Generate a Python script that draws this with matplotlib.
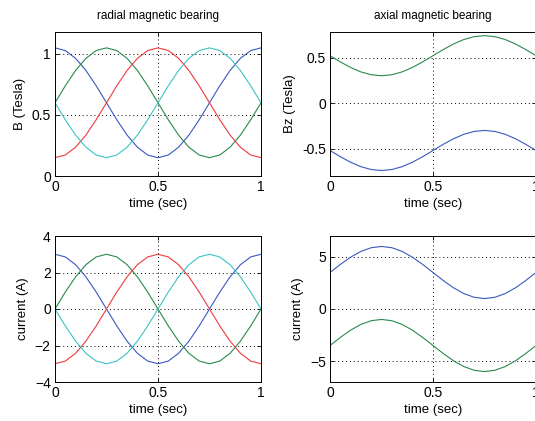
import matplotlib
matplotlib.use('Agg')
import matplotlib.pyplot as plt

plt.rcParams['font.family'] = ['Liberation Sans', 'DejaVu Sans']

# time axis, 0.05 s steps
t = [0.0, 0.05, 0.1, 0.15, 0.2, 0.25, 0.3, 0.35, 0.4, 0.45, 0.5,
     0.55, 0.6, 0.65, 0.7, 0.75, 0.8, 0.85, 0.9, 0.95, 1.0]

# radial bearing flux (Tesla)
B_blue = [1.05, 1.028, 0.964, 0.865, 0.739, 0.6, 0.461, 0.335, 0.236, 0.172, 0.15,
          0.172, 0.236, 0.335, 0.461, 0.6, 0.739, 0.865, 0.964, 1.028, 1.05]
B_green = [0.6, 0.739, 0.865, 0.964, 1.028, 1.05, 1.028, 0.964, 0.865, 0.739, 0.6,
           0.461, 0.335, 0.236, 0.172, 0.15, 0.172, 0.236, 0.335, 0.461, 0.6]
B_red = [0.15, 0.172, 0.236, 0.335, 0.461, 0.6, 0.739, 0.865, 0.964, 1.028, 1.05,
         1.028, 0.964, 0.865, 0.739, 0.6, 0.461, 0.335, 0.236, 0.172, 0.15]
B_cyan = [0.6, 0.461, 0.335, 0.236, 0.172, 0.15, 0.172, 0.236, 0.335, 0.461, 0.6,
          0.739, 0.865, 0.964, 1.028, 1.05, 1.028, 0.964, 0.865, 0.739, 0.6]

# axial bearing flux (Tesla)
Bz_green = [0.52, 0.452, 0.391, 0.342, 0.311, 0.30, 0.311, 0.342, 0.391, 0.452, 0.52,
            0.588, 0.649, 0.698, 0.729, 0.74, 0.729, 0.698, 0.649, 0.588, 0.52]
Bz_blue = [-0.52, -0.588, -0.649, -0.698, -0.729, -0.74, -0.729, -0.698, -0.649, -0.588, -0.52,
           -0.452, -0.391, -0.342, -0.311, -0.30, -0.311, -0.342, -0.391, -0.452, -0.52]

# radial currents (A)
I_blue = [3.0, 2.853, 2.427, 1.763, 0.927, 0.0, -0.927, -1.763, -2.427, -2.853, -3.0,
          -2.853, -2.427, -1.763, -0.927, 0.0, 0.927, 1.763, 2.427, 2.853, 3.0]
I_green = [0.0, 0.927, 1.763, 2.427, 2.853, 3.0, 2.853, 2.427, 1.763, 0.927, 0.0,
           -0.927, -1.763, -2.427, -2.853, -3.0, -2.853, -2.427, -1.763, -0.927, 0.0]
I_red = [-3.0, -2.853, -2.427, -1.763, -0.927, 0.0, 0.927, 1.763, 2.427, 2.853, 3.0,
         2.853, 2.427, 1.763, 0.927, 0.0, -0.927, -1.763, -2.427, -2.853, -3.0]
I_cyan = [0.0, -0.927, -1.763, -2.427, -2.853, -3.0, -2.853, -2.427, -1.763, -0.927, 0.0,
          0.927, 1.763, 2.427, 2.853, 3.0, 2.853, 2.427, 1.763, 0.927, 0.0]

# axial currents (A)
Iz_blue = [3.5, 4.273, 4.969, 5.523, 5.878, 6.0, 5.878, 5.523, 4.969, 4.273, 3.5,
           2.727, 2.031, 1.477, 1.122, 1.0, 1.122, 1.477, 2.031, 2.727, 3.5]
Iz_green = [-3.5, -2.727, -2.031, -1.477, -1.122, -1.0, -1.122, -1.477, -2.031, -2.727, -3.5,
            -4.273, -4.969, -5.523, -5.878, -6.0, -5.878, -5.523, -4.969, -4.273, -3.5]

c_blue = '#3a58c0'
c_green = '#2a8a4c'
c_red = '#f03a3a'
c_cyan = '#3cc4c4'

fig = plt.figure(figsize=(5.35, 4.21), dpi=100)
W, H = 535.0, 421.0

def make_ax(x0, y0, x1, y1):
    ax = fig.add_axes([x0 / W, 1 - y1 / H, (x1 - x0) / W, (y1 - y0) / H])
    ax.grid(True, color='black', linestyle=(0, (1, 3)), linewidth=0.7)
    ax.tick_params(direction='in', length=3, labelsize=10, width=0.6,
                   top=True, right=True, pad=3)
    for s in ax.spines.values():
        s.set_linewidth(0.7)
    ax.set_xlim(0, 1)
    ax.set_xticks([0, 0.5, 1])
    ax.set_xticklabels(['0', '0.5', '1'])
    ax.set_xlabel('time (sec)', fontsize=9.5, labelpad=3)
    return ax

lw = 0.8

ax1 = make_ax(55, 32, 261, 176)
ax1.plot(t, B_blue, color=c_blue, lw=lw)
ax1.plot(t, B_green, color=c_green, lw=lw)
ax1.plot(t, B_red, color=c_red, lw=lw)
ax1.plot(t, B_cyan, color=c_cyan, lw=lw)
ax1.set_ylim(0, 1.18)
ax1.set_yticks([0, 0.5, 1])
ax1.set_yticklabels(['0', '0.5', '1'])
ax1.set_ylabel('B (Tesla)', fontsize=9.5)
ax1.set_title('radial magnetic bearing', fontsize=8.5, pad=9)

ax2 = make_ax(330, 32, 536, 176)
ax2.plot(t, Bz_green, color=c_green, lw=lw)
ax2.plot(t, Bz_blue, color=c_blue, lw=lw)
ax2.set_ylim(-0.8, 0.78)
ax2.set_yticks([-0.5, 0, 0.5])
ax2.set_yticklabels(['-0.5', '0', '0.5'])
ax2.set_ylabel('Bz (Tesla)', fontsize=9.5)
ax2.set_title('axial magnetic bearing', fontsize=8.5, pad=9)

ax3 = make_ax(55, 236, 261, 382)
ax3.plot(t, I_blue, color=c_blue, lw=lw)
ax3.plot(t, I_green, color=c_green, lw=lw)
ax3.plot(t, I_red, color=c_red, lw=lw)
ax3.plot(t, I_cyan, color=c_cyan, lw=lw)
ax3.set_ylim(-4, 4)
ax3.set_yticks([-4, -2, 0, 2, 4])
ax3.set_ylabel('current (A)', fontsize=9.5)

ax4 = make_ax(330, 236, 536, 382)
ax4.plot(t, Iz_blue, color=c_blue, lw=lw)
ax4.plot(t, Iz_green, color=c_green, lw=lw)
ax4.set_ylim(-7, 7)
ax4.set_yticks([-5, 0, 5])
ax4.set_ylabel('current (A)', fontsize=9.5)

fig.savefig('out.png', dpi=100)
